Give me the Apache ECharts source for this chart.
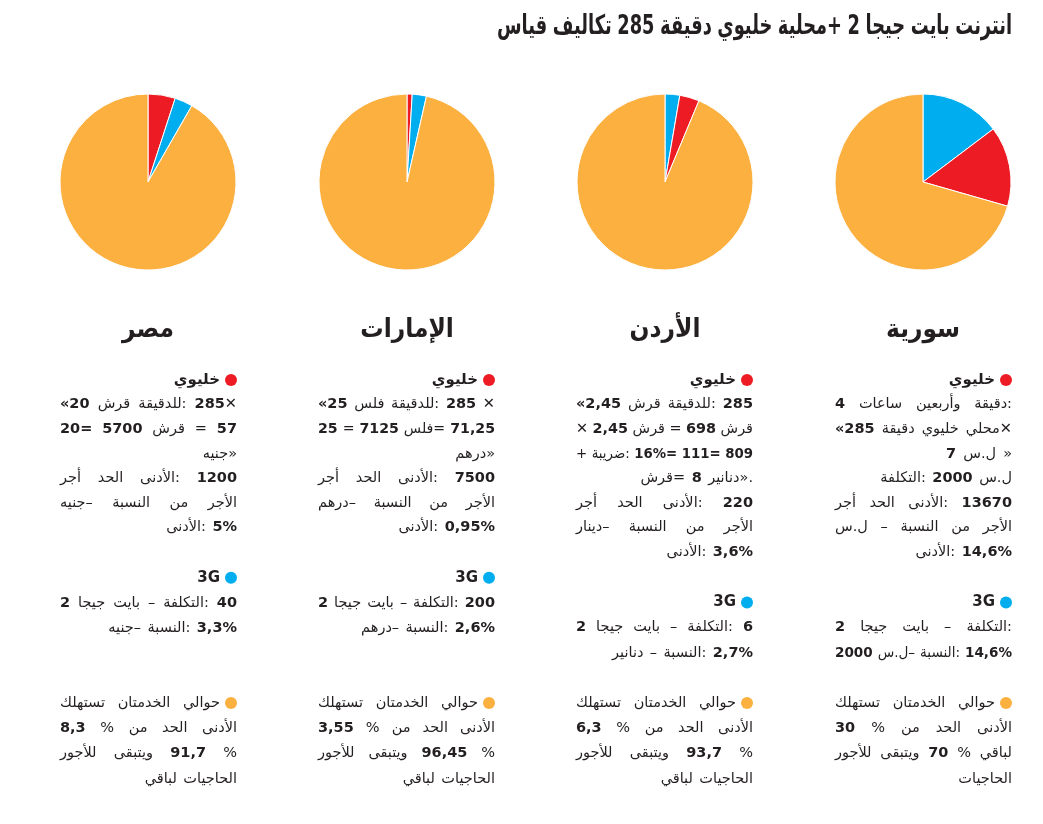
<!DOCTYPE html>
<html>
<head>
<meta charset="utf-8">
<script src="https://cdn.jsdelivr.net/npm/echarts@6/dist/echarts.min.js"></script>
<style>
  html, body { margin: 0; padding: 0; background: #fff; }
  #main { width: 1043px; height: 824px; }
</style>
</head>
<body>
<div id="main"></div>
<script>
// البيانات
var countries = ['سورية', 'الأردن', 'الإمارات', 'مصر'];
var cellularPct = [14.6, 3.6, 0.95, 5];      // خليوي
var g3Pct = [14.6, 2.7, 2.6, 3.3];           // 3G
var restPct = [70, 93.7, 96.45, 91.7];       // باقي الحاجيات
var blueFirst = [true, true, false, false];  // ترتيب الشرائح في كل دائرة

var title = 'قياس تكاليف 285 دقيقة خليوي محلية+ 2 جيجا بايت انترنت';

// النصوص: كل فقرة مصفوفة أسطر، آخر سطر فيها غير مضبوط
var cellText = [
  [['4 ساعات وأربعين دقيقة:', '«285 دقيقة خليوي محلي✕', '7 ل.س »'], ['التكلفة: 2000 ل.س'],
   ['أجر الحد الأدنى: 13670', 'ل.س – النسبة من الأجر', 'الأدنى: 14,6%']],
  [['«2,45 قرش للدقيقة: 285', '✕ 2,45 قرش = 698 قرش', '+ ضريبة: 16%= 111= 809', 'قرش= 8 دنانير».'],
   ['أجر الحد الأدنى: 220', 'دينار– النسبة من الأجر', 'الأدنى: 3,6%']],
  [['«25 فلس للدقيقة: 285 ✕', '25 = 7125 فلس= 71,25', 'درهم»'],
   ['أجر الحد الأدنى: 7500', 'درهم– النسبة من الأجر', 'الأدنى: 0,95%']],
  [['«20 قرش للدقيقة: 285✕', '20= 5700 قرش = 57', 'جنيه»'],
   ['أجر الحد الأدنى: 1200', 'جنيه– النسبة من الأجر', 'الأدنى: 5%']]
];
var g3Text = [
  [['2 جيجا بايت – التكلفة:', '2000 ل.س– النسبة: 14,6%']],
  [['2 جيجا بايت – التكلفة: 6', 'دنانير – النسبة: 2,7%']],
  [['2 جيجا بايت – التكلفة: 200', 'درهم– النسبة: 2,6%']],
  [['2 جيجا بايت – التكلفة: 40', 'جنيه– النسبة: 3,3%']]
];
var restText = [
  [['تستهلك الخدمتان حوالي', '30 % من الحد الأدنى', 'للأجور ويتبقى 70 % لباقي', 'الحاجيات']],
  [['تستهلك الخدمتان حوالي', '6,3 % من الحد الأدنى', 'للأجور ويتبقى 93,7 %', 'لباقي الحاجيات']],
  [['تستهلك الخدمتان حوالي', '3,55 % من الحد الأدنى', 'للأجور ويتبقى 96,45 %', 'لباقي الحاجيات']],
  [['تستهلك الخدمتان حوالي', '8,3 % من الحد الأدنى', 'للأجور ويتبقى 91,7 %', 'لباقي الحاجيات']]
];

var RED = '#ED1C24', BLUE = '#00AEEF', ORANGE = '#FBB040', INK = '#231F20';
var FONT = '"DejaVu Sans", sans-serif';

var pieX = [923, 665, 407, 148];
var colRight = [1012, 753, 495, 237];
var colWidth = 177;
var SIZE = 14.5;

var ctx = document.createElement('canvas').getContext('2d');
function measure(t, font) { ctx.font = font; return ctx.measureText(t).width; }
function fontOf(tok, size, weight) {
  return (/[0-9G]/.test(tok) ? 'bold' : weight) + ' ' + size + 'px ' + FONT;
}
// علامة LRM حتى تبقى علامات الترقيم يمين الكلمة كما في الأصل
function ltr(w) { return '\u200E' + w + '\u200E'; }

var myChart = echarts.init(document.getElementById('main'));

var series = countries.map(function (name, i) {
  var red = { name: 'خليوي', value: cellularPct[i], itemStyle: { color: RED } };
  var blue = { name: '3G', value: g3Pct[i], itemStyle: { color: BLUE } };
  var rest = { name: 'باقي الحاجيات', value: restPct[i], itemStyle: { color: ORANGE } };
  return {
    type: 'pie',
    center: [pieX[i], 182],
    radius: 88,
    startAngle: 90,
    clockwise: true,
    label: { show: false },
    labelLine: { show: false },
    emphasis: { disabled: true },
    itemStyle: { borderColor: '#fff', borderWidth: 1 },
    data: blueFirst[i] ? [blue, red, rest] : [red, blue, rest]
  };
});

var graphic = [];

// سطر واحد: الكلمات من اليسار لليمين كما في الأصل
function layLine(line, left, right, y, justify, size, weight) {
  var words = line.split(' ');
  var fonts = words.map(function (w) { return fontOf(w, size, weight); });
  var widths = words.map(function (w, k) { return measure(ltr(w), fonts[k]); });
  var W = widths.reduce(function (a, b) { return a + b; }, 0);
  var n = words.length;
  var space = measure(' ', fonts[0]) * 1.4;
  var minGap = space * 0.7;
  if (!justify && W + space * (n - 1) > (right - left) * 0.93) justify = true;
  var gap = justify && n > 1 ? (right - left - W) / (n - 1) : space;
  var s = 1;
  if (gap < minGap) { s = (right - left - minGap * (n - 1)) / W; gap = minGap; }
  var x = right - (W * s + gap * (n - 1));
  words.forEach(function (w, k) {
    graphic.push({
      type: 'text', x: x, y: y, scaleX: s, silent: true,
      style: { text: ltr(w), fill: INK, font: fonts[k], textAlign: 'left', textVerticalAlign: 'middle' }
    });
    x += widths[k] * s + gap;
  });
}

function addBlock(i, y, color, head, paras, lineH) {
  var r = colRight[i], l = r - colWidth;
  graphic.push({ type: 'circle', silent: true, shape: { cx: r - 6, cy: y, r: 6 }, style: { fill: color } });
  if (head) {
    graphic.push({
      type: 'text', x: r - 17, y: y, silent: true,
      style: { text: head, fill: INK, font: 'bold 15px ' + FONT, textAlign: 'right', textVerticalAlign: 'middle' }
    });
  }
  var k = head ? 1 : 0;
  paras.forEach(function (p) {
    p.forEach(function (line, j) {
      var right = (k === 0) ? r - 17 : r;
      layLine(line, l, right, y + k * lineH, j < p.length - 1, SIZE, 'normal');
      k++;
    });
  });
  return k;
}

// العنوان بضغط أفقي ليطابق العرض
(function () {
  var words = title.split(' ');
  var f = 'bold 27px ' + FONT;
  var sp = measure(' ', f) * 0.9;
  var widths = words.map(function (w) { return measure(ltr(w), f); });
  var total = widths.reduce(function (a, b) { return a + b; }, 0) + sp * (words.length - 1);
  var s = 515 / total;
  var children = [], x = 0;
  words.forEach(function (w, k) {
    children.push({ type: 'text', x: x, y: 0, silent: true,
      style: { text: ltr(w), fill: INK, font: f, textAlign: 'left', textVerticalAlign: 'middle' } });
    x += widths[k] + sp;
  });
  graphic.push({ type: 'group', x: 1012 - total * s, y: 27, scaleX: s, children: children });
})();

countries.forEach(function (c, i) {
  graphic.push({
    type: 'text', x: pieX[i], y: 330, silent: true, scaleX: 0.9,
    style: { text: c, fill: INK, font: 'bold 26px ' + FONT, textAlign: 'center', textVerticalAlign: 'middle' }
  });
  var y0 = 380;
  var used = addBlock(i, y0, RED, 'خليوي', cellText[i], 24.6);
  addBlock(i, y0 + (used + 1) * 24.6 + 1, BLUE, '3G', g3Text[i], 25.2);
  addBlock(i, 703, ORANGE, null, restText[i], 25.3);
});

myChart.setOption({
  backgroundColor: '#fff',
  animation: false,
  series: series,
  graphic: graphic
});
</script>
</body>
</html>
